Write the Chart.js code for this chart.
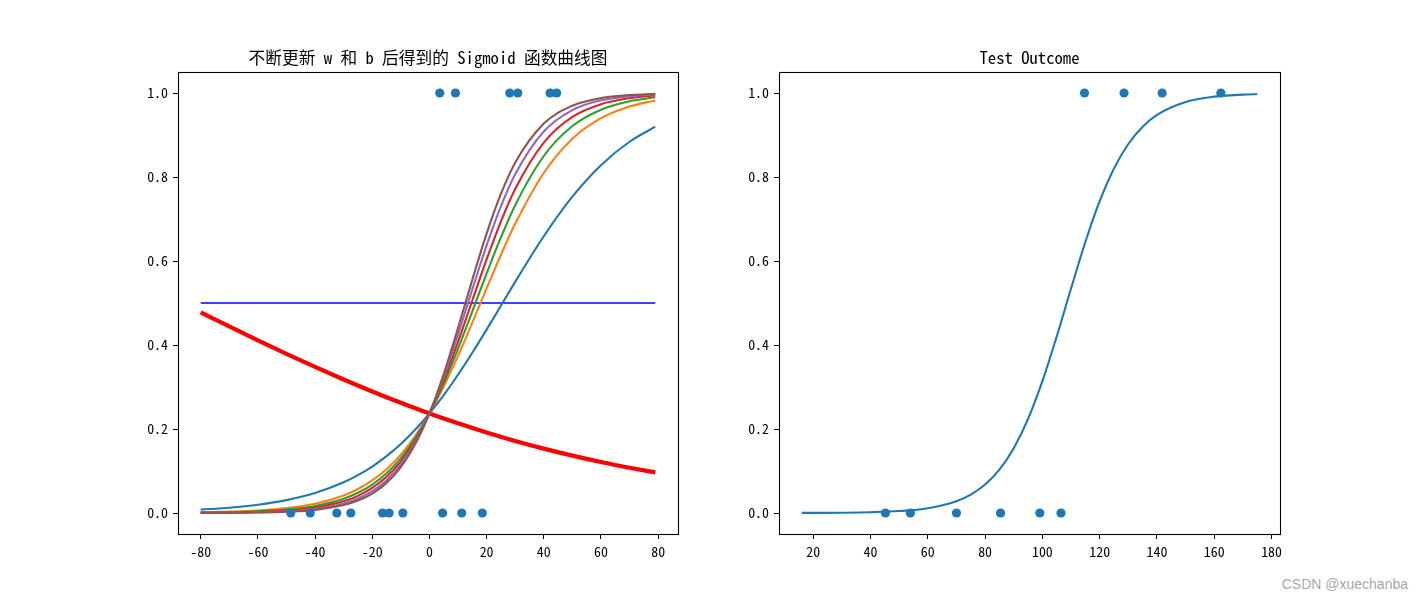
<!DOCTYPE html>
<html lang="zh">
  <head>
    <meta charset="UTF-8" />
    <title>Sigmoid</title>
    <script src="https://cdn.jsdelivr.net/npm/chart.js@4.4.0/dist/chart.umd.min.js"></script>
    <style>
      body { margin: 0; background: #fff; width: 1420px; height: 600px; overflow: hidden; position: relative; }
      .plot { position: absolute; top: 40px; width: 600px; height: 530px; }
      #mark { position: absolute; right: 12px; top: 576px; font: 14px "Liberation Sans", Arial, sans-serif; color: #a8a8a8; }
    </style>
  </head>
  <body>
    <div class="plot" style="left: 100px;"><canvas id="leftChart"></canvas></div>
    <div class="plot" style="left: 701px;"><canvas id="rightChart"></canvas></div>
    <div id="mark">CSDN @xuechanba</div>

    <script>
      // left plot: sample points and the curves after each update of w and b
      const zeroX = [-48.5, -41.7, -32.4, -27.5, -16.4, -14.1, -9.3, 4.6, 11.3, 18.5];
      const oneX = [3.6, 9.1, 28.1, 30.9, 42.2, 44.5];

      const curveX = [-80, -70, -60, -50, -40, -30, -25, -20, -15, -10, -5, 0, 5, 10, 15, 20, 25, 30, 40, 50, 60, 70, 79];
      const curve1 = [0.0080, 0.0125, 0.0196, 0.0307, 0.0476, 0.0731, 0.0902, 0.1107, 0.1354, 0.1644, 0.1982, 0.2370, 0.2808, 0.3292, 0.3814, 0.4366, 0.4934, 0.5503, 0.6590, 0.7532, 0.8282, 0.8839, 0.9199];
      const curve2 = [0.0017, 0.0032, 0.0061, 0.0117, 0.0222, 0.0418, 0.0571, 0.0775, 0.1043, 0.1391, 0.1830, 0.2370, 0.3011, 0.3740, 0.4531, 0.5347, 0.6144, 0.6885, 0.8096, 0.8910, 0.9402, 0.9680, 0.9820];
      const curve3 = [0.0009, 0.0019, 0.0040, 0.0082, 0.0168, 0.0340, 0.0482, 0.0678, 0.0947, 0.1307, 0.1777, 0.2370, 0.3087, 0.3910, 0.4800, 0.5703, 0.6561, 0.7328, 0.8500, 0.9213, 0.9603, 0.9804, 0.9897];
      const curve4 = [0.0005, 0.0012, 0.0026, 0.0058, 0.0128, 0.0278, 0.0408, 0.0596, 0.0861, 0.1230, 0.1727, 0.2370, 0.3162, 0.4076, 0.5059, 0.6037, 0.6939, 0.7714, 0.8819, 0.9430, 0.9734, 0.9878, 0.9940];
      const curve5 = [0.0003, 0.0007, 0.0017, 0.0041, 0.0096, 0.0226, 0.0344, 0.0521, 0.0781, 0.1156, 0.1677, 0.2370, 0.3239, 0.4248, 0.5325, 0.6371, 0.7303, 0.8068, 0.9084, 0.9593, 0.9825, 0.9926, 0.9966];
      const curve6 = [0.0002, 0.0005, 0.0012, 0.0030, 0.0075, 0.0188, 0.0296, 0.0463, 0.0717, 0.1094, 0.1634, 0.2370, 0.3307, 0.4401, 0.5555, 0.6653, 0.7597, 0.8341, 0.9271, 0.9698, 0.9879, 0.9952, 0.9979];

      const startX = [-80, -70, -60, -50, -40, -30, -20, -10, 0, 10, 20, 30, 40, 50, 60, 70, 79];
      const startY = [0.4778, 0.4442, 0.4112, 0.3790, 0.3477, 0.3178, 0.2893, 0.2623, 0.2370, 0.2135, 0.1917, 0.1716, 0.1533, 0.1366, 0.1214, 0.1078, 0.0966];

      const halfX = [-80, 79];
      const halfY = [0.5, 0.5];

      // right plot: test data and fitted curve
      const testZeroX = [45.2, 53.9, 70.0, 85.4, 99.1, 106.5];
      const testOneX = [114.7, 128.5, 141.8, 162.3];
      const testX = [16, 30, 40, 50, 60, 70, 75, 80, 85, 90, 95, 100, 105, 110, 115, 120, 125, 130, 135, 140, 150, 160, 175];
      const testY = [0.0002, 0.0007, 0.0018, 0.0046, 0.0114, 0.0282, 0.0439, 0.0678, 0.1032, 0.1542, 0.2241, 0.3139, 0.4202, 0.5344, 0.6452, 0.7423, 0.8203, 0.8785, 0.9197, 0.9478, 0.9785, 0.9913, 0.9978];

      const leftTicks = [-80, -60, -40, -20, 0, 20, 40, 60, 80];
      const rightTicks = [20, 40, 60, 80, 100, 120, 140, 160, 180];
      const yTicks = [0, 0.2, 0.4, 0.6, 0.8, 1.0];

      const tickFont = { family: '"Noto Sans Mono CJK SC", "Noto Sans CJK SC", sans-serif', size: 13.9 };
      const palette = ['#1f77b4', '#ff7f0e', '#2ca02c', '#d62728', '#9467bd', '#8c564b'];

      function pts(xs, ys) {
        return xs.map((x, i) => ({ x: x, y: ys[i] }));
      }
      function dots(xs, v) {
        return xs.map(x => ({ x: x, y: v }));
      }

      // draws the box around the axes and the subplot title
      const framePlugin = {
        id: 'frame',
        afterDatasetsDraw(chart, args, opts) {
          const ca = chart.chartArea;
          const ctx = chart.ctx;
          ctx.save();
          ctx.strokeStyle = '#000';
          ctx.lineWidth = 1.1;
          ctx.strokeRect(Math.round(ca.left) + 0.5, Math.round(ca.top) + 0.5, Math.round(ca.right - ca.left), Math.round(ca.bottom - ca.top));
          ctx.fillStyle = '#000';
          ctx.font = '16.7px "Noto Sans Mono CJK SC", "Noto Sans CJK SC", sans-serif';
          ctx.textAlign = 'center';
          ctx.textBaseline = 'middle';
          ctx.fillText(opts.text, (ca.left + ca.right) / 2, ca.top - 14);
          ctx.restore();
        }
      };

      function makeScales(xMin, xMax, xTicks) {
        return {
          x: {
            type: 'linear', min: xMin, max: xMax,
            afterBuildTicks: axis => { axis.ticks = xTicks.map(v => ({ value: v })); },
            afterFit: axis => { axis.height = 36; },
            grid: { drawOnChartArea: false, tickLength: 5, tickColor: '#000', tickWidth: 1 },
            border: { display: false },
            ticks: { color: '#000', font: tickFont, padding: 4, maxRotation: 0, callback: v => String(v) }
          },
          y: {
            type: 'linear', min: -0.05, max: 1.05,
            afterBuildTicks: axis => { axis.ticks = yTicks.map(v => ({ value: v })); },
            afterFit: axis => { axis.width = 78; },
            grid: { drawOnChartArea: false, tickLength: 5, tickColor: '#000', tickWidth: 1 },
            border: { display: false },
            ticks: { color: '#000', font: tickFont, padding: 5, callback: v => v.toFixed(1) }
          }
        };
      }

      const baseOpts = {
        responsive: false,
        animation: false,
        events: [],
        plugins: { legend: { display: false }, tooltip: { enabled: false } }
      };

      function lineSet(data, color, width, order) {
        return {
          data: data, showLine: true, borderColor: color, borderWidth: width,
          pointRadius: 0, cubicInterpolationMode: 'monotone', fill: false, order: order
        };
      }
      function dotSet(data) {
        return {
          data: data, showLine: false, backgroundColor: '#1f77b4', borderWidth: 0,
          pointRadius: 4.6, order: 0
        };
      }

      const lc = document.getElementById('leftChart');
      lc.width = 600; lc.height = 530;
      new Chart(lc, {
        type: 'scatter',
        data: {
          datasets: [
            dotSet(dots(zeroX, 0)),
            dotSet(dots(oneX, 1)),
            lineSet(pts(curveX, curve1), palette[0], 2.1, 6),
            lineSet(pts(curveX, curve2), palette[1], 2.1, 5),
            lineSet(pts(curveX, curve3), palette[2], 2.1, 4),
            lineSet(pts(curveX, curve4), palette[3], 2.1, 3),
            lineSet(pts(curveX, curve5), palette[4], 2.1, 2),
            lineSet(pts(curveX, curve6), palette[5], 2.1, 1),
            lineSet(pts(halfX, halfY), '#0000ff', 1.4, 7),
            lineSet(pts(startX, startY), '#ff0000', 4.2, 8)
          ]
        },
        options: Object.assign({}, baseOpts, {
          layout: { padding: { top: 32, right: 22, left: 0, bottom: 0 } },
          scales: makeScales(-87.95, 86.95, leftTicks),
          plugins: Object.assign({}, baseOpts.plugins, { frame: { text: '不断更新 w 和 b 后得到的 Sigmoid 函数曲线图' } })
        }),
        plugins: [framePlugin]
      });

      const rc = document.getElementById('rightChart');
      rc.width = 600; rc.height = 530;
      new Chart(rc, {
        type: 'scatter',
        data: {
          datasets: [
            dotSet(dots(testZeroX, 0)),
            dotSet(dots(testOneX, 1)),
            lineSet(pts(testX, testY), palette[0], 2.1, 1)
          ]
        },
        options: Object.assign({}, baseOpts, {
          layout: { padding: { top: 32, right: 21, left: 0, bottom: 0 } },
          scales: makeScales(8.05, 182.95, rightTicks),
          plugins: Object.assign({}, baseOpts.plugins, { frame: { text: 'Test Outcome' } })
        }),
        plugins: [framePlugin]
      });
    </script>
  </body>
</html>
